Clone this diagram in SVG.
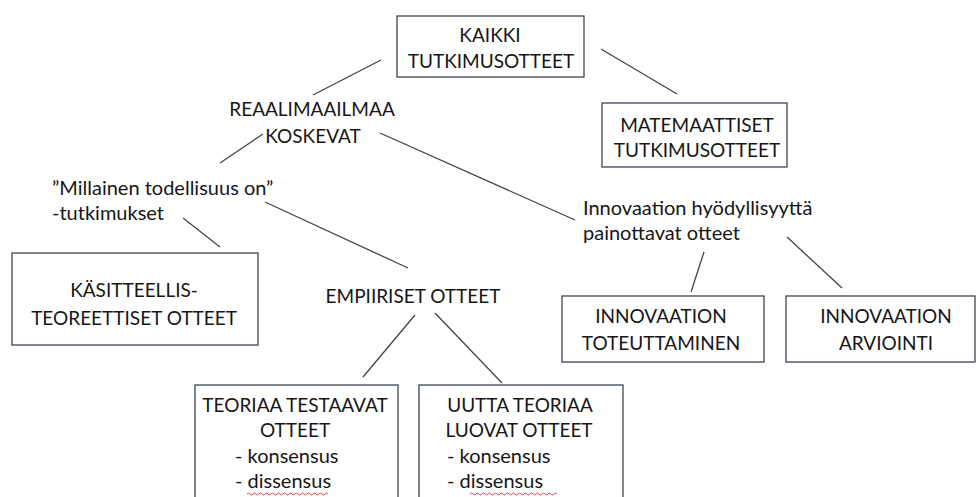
<svg xmlns="http://www.w3.org/2000/svg" width="977" height="497" viewBox="0 0 977 497">
  <style>
    .box { fill: #ffffff; stroke: #3c4650; stroke-width: 1.3; }
    .edge { stroke: #3c4650; stroke-width: 1.3; fill: none; }
    text { font-family: Lato, "Liberation Sans", sans-serif; font-size: 20px; fill: #161616; }
    .u { font-size: 19px; }
    .c { text-anchor: middle; }
    .squiggle { fill: none; stroke: #d03030; stroke-width: 0.9; }
  </style>
  <rect width="977" height="497" fill="#ffffff"/>

  <g id="connectors">
    <line class="edge" x1="313" y1="95" x2="381" y2="60"/>
    <line class="edge" x1="601" y1="49" x2="677" y2="94"/>
    <line class="edge" x1="263" y1="134" x2="220" y2="163"/>
    <line class="edge" x1="380" y1="133" x2="575" y2="220"/>
    <line class="edge" x1="183" y1="218" x2="220" y2="247"/>
    <line class="edge" x1="265" y1="202" x2="408" y2="268"/>
    <line class="edge" x1="415" y1="315" x2="363" y2="377"/>
    <line class="edge" x1="435" y1="313" x2="502" y2="383"/>
    <line class="edge" x1="704" y1="252" x2="691" y2="292"/>
    <line class="edge" x1="787" y1="237" x2="842" y2="288"/>
  </g>

  <g id="kaikki">
    <rect class="box" x="397" y="16" width="187" height="61"/>
    <text class="c u" x="490" y="42">KAIKKI</text>
    <text class="c u" x="491" y="68">TUTKIMUSOTTEET</text>
  </g>

  <g id="matemaattiset">
    <rect class="box" x="602" y="103" width="185" height="64"/>
    <text class="c u" x="697" y="132">MATEMAATTISET</text>
    <text class="c u" x="697" y="157">TUTKIMUSOTTEET</text>
  </g>

  <g id="reaalimaailmaa">
    <text class="c u" x="312" y="116">REAALIMAAILMAA</text>
    <text class="c u" x="313" y="143">KOSKEVAT</text>
  </g>

  <g id="millainen">
    <text x="52" y="195">”Millainen todellisuus on”</text>
    <text x="52" y="220">-tutkimukset</text>
  </g>

  <g id="innovaation-hyodyllisyys">
    <text x="583" y="215">Innovaation hyödyllisyyttä</text>
    <text x="583" y="240">painottavat otteet</text>
  </g>

  <g id="kasitteellis">
    <rect class="box" x="12" y="253" width="246" height="92"/>
    <text class="c u" x="134" y="297">KÄSITTEELLIS-</text>
    <text class="c u" x="134" y="325">TEOREETTISET OTTEET</text>
  </g>

  <g id="empiiriset">
    <text class="c u" x="413" y="303">EMPIIRISET OTTEET</text>
  </g>

  <g id="toteuttaminen">
    <rect class="box" x="562" y="296" width="202" height="66"/>
    <text class="c u" x="661" y="323">INNOVAATION</text>
    <text class="c u" x="661" y="350">TOTEUTTAMINEN</text>
  </g>

  <g id="arviointi">
    <rect class="box" x="786" y="296" width="189" height="66"/>
    <text class="c u" x="886" y="323">INNOVAATION</text>
    <text class="c u" x="886" y="350">ARVIOINTI</text>
  </g>

  <g id="testaavat">
    <rect class="box" x="195" y="385" width="203" height="130"/>
    <text class="c u" x="295" y="412">TEORIAA TESTAAVAT</text>
    <text class="c u" x="295" y="437">OTTEET</text>
    <text x="235" y="463">- konsensus</text>
    <text x="235" y="488">- dissensus</text>
    <path class="squiggle" d="M247 494 q1.5 -2 3 0 t3 0 t3 0 t3 0 t3 0 t3 0 t3 0 t3 0 t3 0 t3 0 t3 0 t3 0 t3 0 t3 0 t3 0 t3 0 t3 0 t3 0 t3 0 t3 0 t3 0 t3 0 t3 0 t3 0 t3 0 t3 0 t3 0"/>
  </g>

  <g id="luovat">
    <rect class="box" x="419" y="385" width="204" height="130"/>
    <text class="c u" x="520" y="412">UUTTA TEORIAA</text>
    <text class="c u" x="519" y="437">LUOVAT OTTEET</text>
    <text x="447" y="463">- konsensus</text>
    <text x="447" y="488">- dissensus</text>
    <path class="squiggle" d="M470 494 q1.5 -2 3 0 t3 0 t3 0 t3 0 t3 0 t3 0 t3 0 t3 0 t3 0 t3 0 t3 0 t3 0 t3 0 t3 0 t3 0 t3 0 t3 0 t3 0 t3 0 t3 0 t3 0 t3 0 t3 0 t3 0 t3 0 t3 0 t3 0 t3 0 t3 0"/>
  </g>
</svg>
